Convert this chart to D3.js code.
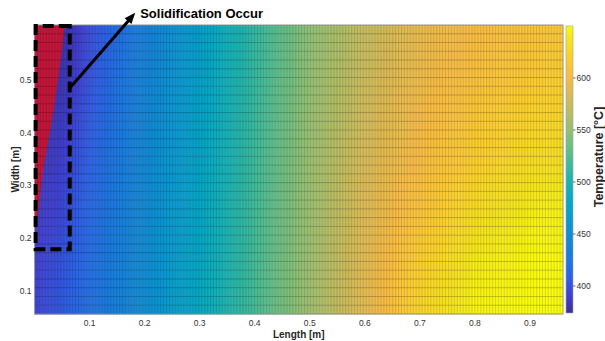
<!DOCTYPE html>
<html>
<head>
<meta charset="utf-8">
<script src="https://cdn.jsdelivr.net/npm/d3@7"></script>
<style>
  body { margin: 0; background: #fff; }
  svg text { font-family: "Liberation Sans", Arial, sans-serif; }
</style>
</head>
<body>
<div id="chart"></div>
<script>
// positions along the length where the temperature was read [m]
var lengthPts = [0, 0.03, 0.06, 0.1, 0.15, 0.2, 0.3, 0.4, 0.5, 0.6, 0.7, 0.8, 0.9, 0.96];
// widths of the rows that were read [m]
var widthPts = [0.58, 0.53, 0.48, 0.43, 0.38, 0.33, 0.28, 0.23, 0.18, 0.13, 0.08];
// temperature [°C], one row per width, one value per length point
var tempRows = [
  [377, 378, 381, 398, 418, 436, 470, 512, 548, 574, 594, 603, 610, 613],
  [378, 379, 383, 400, 420, 438, 471, 513, 549, 576, 596, 606, 614, 617],
  [379, 381, 386, 402, 422, 440, 473, 514, 550, 578, 598, 609, 618, 621],
  [380, 383, 389, 405, 424, 442, 474, 515, 551, 580, 600, 613, 623, 626],
  [382, 385, 392, 407, 426, 444, 476, 516, 552, 582, 602, 617, 628, 631],
  [384, 387, 395, 410, 428, 446, 477, 517, 553, 584, 604, 621, 633, 636],
  [386, 390, 398, 412, 430, 447, 478, 518, 553, 586, 608, 627, 639, 642],
  [388, 392, 401, 414, 432, 448, 479, 519, 554, 587, 612, 633, 644, 646],
  [390, 395, 404, 416, 433, 449, 480, 519, 554, 588, 617, 638, 647, 648],
  [391, 397, 406, 418, 435, 450, 481, 520, 555, 589, 621, 642, 649, 650],
  [393, 400, 408, 420, 436, 451, 482, 520, 555, 590, 625, 645, 650, 650]
];
// mesh of the model
var meshCols = 180, meshRows = 33;
var lengthRange = [0, 0.96], widthRange = [0.056, 0.604];

// solidified zone: right edge of the red region at each width
var solidWidth = [0.604, 0.55, 0.5, 0.45, 0.4, 0.35, 0.3, 0.25, 0.218];
var solidEdge  = [0.055, 0.049, 0.043, 0.036, 0.028, 0.019, 0.012, 0.007, 0.004];

// dashed box and arrow annotation (data units)
var boxLength = [0.002, 0.064], boxWidth = [0.179, 0.602];
var arrowFrom = [0.063, 0.483], arrowTo = [0.183, 0.627];
var noteText = "Solidification Occur", notePos = [0.192, 0.617];

var xTicks = [0.1, 0.2, 0.3, 0.4, 0.5, 0.6, 0.7, 0.8, 0.9];
var yTicks = [0.1, 0.2, 0.3, 0.4, 0.5];
var cTicks = [400, 450, 500, 550, 600];
var cRange = [374, 650];

// parula-like colormap (every 4th entry of a 64 table)
var parula = ["#3a2e9a", "#4040d2", "#2c62e6", "#1d78e0", "#1487d6", "#0998d1",
  "#06a7c6", "#15b1b4", "#38b99e", "#65be86", "#92bf73", "#b7bd64",
  "#d9ba56", "#f8bb44", "#fcce2e", "#f5e41d", "#f9fb0e"];
var parulaPos = [0, 4, 8, 12, 16, 20, 24, 28, 32, 36, 40, 44, 48, 52, 56, 60, 63];

function drawChart() {
  var W = 605, H = 341;
  var svg = d3.select("#chart").append("svg")
    .attr("width", W).attr("height", H)
    .style("display", "block");

  var x = d3.scaleLinear().domain(lengthRange).range([34.5, 563]);
  var y = d3.scaleLinear().domain(widthRange).range([314, 25]);

  var color = d3.scaleLinear()
    .domain(parulaPos.map(function (p) { return cRange[0] + p / 63 * (cRange[1] - cRange[0]); }))
    .range(parula)
    .interpolate(d3.interpolateRgb)
    .clamp(true);

  // temperature along the length, for each row that was read
  var rowScales = tempRows.map(function (r) {
    return d3.scaleLinear().domain(lengthPts).range(r).clamp(true);
  });
  function tempAt(lx, wy) {
    var col = rowScales.map(function (s) { return s(lx); });
    return d3.scaleLinear().domain(widthPts).range(col).clamp(true)(wy);
  }

  var xEdges = d3.range(meshCols + 1).map(function (i) {
    return lengthRange[0] + i * (lengthRange[1] - lengthRange[0]) / meshCols;
  });
  var yEdges = d3.range(meshRows + 1).map(function (j) {
    return widthRange[0] + j * (widthRange[1] - widthRange[0]) / meshRows;
  });

  var cells = [];
  for (var j = 0; j < meshRows; j++) {
    for (var i = 0; i < meshCols; i++) {
      cells.push({ x0: xEdges[i], x1: xEdges[i + 1], y0: yEdges[j], y1: yEdges[j + 1] });
    }
  }

  var plot = svg.append("g");
  plot.selectAll("rect.cell")
    .data(cells)
    .enter().append("rect")
      .attr("class", "cell")
      .attr("x", function (d) { return x(d.x0); })
      .attr("y", function (d) { return y(d.y1); })
      .attr("width", function (d) { return x(d.x1) - x(d.x0) + 0.4; })
      .attr("height", function (d) { return y(d.y0) - y(d.y1) + 0.4; })
      .attr("fill", function (d) { return color(tempAt((d.x0 + d.x1) / 2, (d.y0 + d.y1) / 2)); });

  // solidified region
  var solidPts = [[0, solidWidth[0]]]
    .concat(solidWidth.map(function (w, k) { return [solidEdge[k], w]; }))
    .concat([[0, solidWidth[solidWidth.length - 1]]]);
  plot.append("path")
    .datum(solidPts)
    .attr("d", d3.line()
      .x(function (d) { return x(d[0]); })
      .y(function (d) { return y(d[1]); }))
    .attr("fill", "#c2173b");

  // mesh lines
  plot.selectAll("line.vm")
    .data(xEdges)
    .enter().append("line")
      .attr("x1", function (d) { return x(d); }).attr("x2", function (d) { return x(d); })
      .attr("y1", y(widthRange[0])).attr("y2", y(widthRange[1]))
      .attr("stroke", "#000").attr("stroke-opacity", 0.26).attr("stroke-width", 0.5);
  plot.selectAll("line.hm")
    .data(yEdges)
    .enter().append("line")
      .attr("y1", function (d) { return y(d); }).attr("y2", function (d) { return y(d); })
      .attr("x1", x(lengthRange[0])).attr("x2", x(lengthRange[1]))
      .attr("stroke", "#000").attr("stroke-opacity", 0.35).attr("stroke-width", 0.6);

  // axes frame
  svg.append("rect")
    .attr("x", x(lengthRange[0])).attr("y", y(widthRange[1]))
    .attr("width", x(lengthRange[1]) - x(lengthRange[0]))
    .attr("height", y(widthRange[0]) - y(widthRange[1]))
    .attr("fill", "none").attr("stroke", "#a0a0a0").attr("stroke-width", 0.8);

  // axis tick labels
  svg.append("g").selectAll("text")
    .data(xTicks).enter().append("text")
      .attr("x", function (d) { return x(d); })
      .attr("y", 326)
      .attr("text-anchor", "middle")
      .attr("font-size", 8.5).attr("fill", "#333")
      .text(function (d) { return d3.format(".1f")(d); });
  svg.append("g").selectAll("text")
    .data(yTicks).enter().append("text")
      .attr("x", 31.5)
      .attr("y", function (d) { return y(d) + 3; })
      .attr("text-anchor", "end")
      .attr("font-size", 8.5).attr("fill", "#333")
      .text(function (d) { return d3.format(".1f")(d); });

  svg.append("text")
    .attr("x", (x(lengthRange[0]) + x(lengthRange[1])) / 2).attr("y", 338)
    .attr("text-anchor", "middle").attr("font-size", 10).attr("font-weight", "bold")
    .attr("fill", "#262626")
    .text("Length [m]");
  svg.append("text")
    .attr("transform", "translate(18.5," + (y(widthRange[0]) + y(widthRange[1])) / 2 + ") rotate(-90)")
    .attr("text-anchor", "middle").attr("font-size", 10).attr("font-weight", "bold")
    .attr("fill", "#262626")
    .text("Width [m]");

  // colorbar
  var cy = d3.scaleLinear().domain(cRange).range([313, 26]);
  var grad = svg.append("defs").append("linearGradient")
    .attr("id", "cbar").attr("x1", 0).attr("y1", 1).attr("x2", 0).attr("y2", 0);
  grad.selectAll("stop").data(parulaPos).enter().append("stop")
    .attr("offset", function (p) { return p / 63; })
    .attr("stop-color", function (p, k) { return parula[k]; });
  svg.append("rect")
    .attr("x", 566).attr("y", cy(cRange[1]))
    .attr("width", 7).attr("height", cy(cRange[0]) - cy(cRange[1]))
    .attr("fill", "url(#cbar)").attr("stroke", "#a0a0a0").attr("stroke-width", 0.6);
  var cb = svg.append("g");
  cb.selectAll("line").data(cTicks).enter().append("line")
    .attr("x1", 573).attr("x2", 575.5)
    .attr("y1", function (d) { return cy(d); }).attr("y2", function (d) { return cy(d); })
    .attr("stroke", "#333").attr("stroke-width", 0.7);
  cb.selectAll("text").data(cTicks).enter().append("text")
    .attr("x", 576.5).attr("y", function (d) { return cy(d) + 3; })
    .attr("font-size", 8.5).attr("fill", "#333")
    .text(function (d) { return d; });
  svg.append("text")
    .attr("transform", "translate(603,157) rotate(-90)")
    .attr("text-anchor", "middle").attr("font-size", 12.5).attr("font-weight", "bold")
    .attr("fill", "#262626")
    .text("Temperature [°C]");

  // dashed box around the solidified zone
  svg.append("path")
    .attr("d", "M" + x(boxLength[1]) + "," + y(boxWidth[1]) +
      "H" + x(boxLength[0]) + "V" + y(boxWidth[0]) +
      "H" + x(boxLength[1]) + "Z")
    .attr("fill", "none").attr("stroke", "#000").attr("stroke-width", 4)
    .attr("stroke-dasharray", "11,5");

  // arrow
  var ax0 = x(arrowFrom[0]), ay0 = y(arrowFrom[1]);
  var ax1 = x(arrowTo[0]), ay1 = y(arrowTo[1]);
  var len = Math.hypot(ax1 - ax0, ay1 - ay0), ux = (ax1 - ax0) / len, uy = (ay1 - ay0) / len;
  var head = 11, half = 4.5;
  svg.append("line")
    .attr("x1", ax0).attr("y1", ay0)
    .attr("x2", ax1 - ux * (head - 2)).attr("y2", ay1 - uy * (head - 2))
    .attr("stroke", "#000").attr("stroke-width", 3);
  var bx = ax1 - ux * head, by = ay1 - uy * head;
  svg.append("path")
    .attr("d", "M" + ax1 + "," + ay1 +
      "L" + (bx - uy * half) + "," + (by + ux * half) +
      "L" + (bx + uy * half) + "," + (by - ux * half) + "Z")
    .attr("fill", "#000");

  svg.append("text")
    .attr("x", x(notePos[0])).attr("y", y(notePos[1]))
    .attr("font-size", 13).attr("font-weight", "bold").attr("fill", "#000")
    .text(noteText);
}

document.addEventListener("DOMContentLoaded", function () {
  drawChart();
});
</script>
</body>
</html>
